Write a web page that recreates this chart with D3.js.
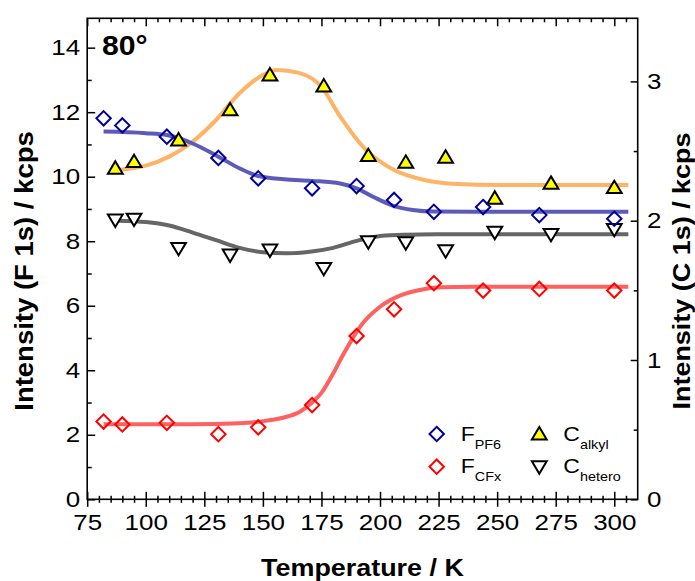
<!DOCTYPE html>
<html>
<head>
<meta charset="utf-8">
<script src="https://cdn.jsdelivr.net/npm/d3@7"></script>
<style>
  html, body { margin: 0; padding: 0; background: #fff; }
  svg { display: block; font-family: "Liberation Sans", Arial, sans-serif; }
</style>
</head>
<body>
<svg id="chart" width="695" height="581"></svg>
<script>
// ---- Measured intensities ----
// F 1s series (left axis, kcps)
const tempF   = [82, 90, 109, 131, 148, 171, 190, 206, 223, 244, 268, 300];
const fPF6    = [11.81, 11.59, 11.24, 10.58, 9.95, 9.64, 9.71, 9.28, 8.91, 9.06, 8.81, 8.70];
const fCFx    = [2.41, 2.32, 2.37, 2.02, 2.23, 2.92, 5.06, 5.89, 6.70, 6.47, 6.52, 6.47];

// C 1s series (right axis, kcps)
const tempC   = [87, 95, 114, 136, 153, 176, 195, 211, 228, 249, 273, 300];
const cAlkyl  = [2.376, 2.424, 2.579, 2.795, 3.046, 2.967, 2.467, 2.419, 2.455, 2.161, 2.268, 2.237];
const cHetero = [2.005, 2.012, 1.802, 1.754, 1.790, 1.658, 1.849, 1.842, 1.785, 1.917, 1.902, 1.938];

// Fit curves (guides to the eye)
const fitPF6T = [82, 100, 109, 120, 131, 140, 148, 159, 171, 183, 190, 197, 206, 214, 223, 240, 270, 306];
const fitPF6V = [11.40, 11.35, 11.29, 11.03, 10.62, 10.26, 10.02, 9.92, 9.87, 9.79, 9.64, 9.38, 9.09, 8.97, 8.92, 8.91, 8.91, 8.91];
const fitCFxT = [82, 120, 140, 150, 158, 166, 171, 175, 180, 184, 188, 192, 200, 209, 217, 226, 240, 306];
const fitCFxV = [2.33, 2.33, 2.36, 2.42, 2.52, 2.72, 3.0, 3.3, 3.9, 4.45, 4.95, 5.4, 5.97, 6.33, 6.49, 6.57, 6.59, 6.59];
const fitAlkT = [88, 100, 110, 120, 130, 140, 150, 156, 165, 175, 183, 194, 206, 219, 233, 250, 280, 306];
const fitAlkV = [2.364, 2.395, 2.46, 2.567, 2.723, 2.915, 3.046, 3.082, 3.063, 2.962, 2.747, 2.508, 2.364, 2.292, 2.263, 2.256, 2.256, 2.256];
const fitHetT = [88, 100, 110, 120, 130, 140, 150, 160, 170, 180, 190, 200, 210, 225, 306];
const fitHetV = [2.0, 1.99, 1.965, 1.915, 1.86, 1.805, 1.774, 1.766, 1.777, 1.805, 1.855, 1.89, 1.90, 1.902, 1.902];

// Axis ticks
const xMajor = [75, 100, 125, 150, 175, 200, 225, 250, 275, 300];
const xMinor = d3.range(80, 310, 5).filter(v => v % 25 !== 0);
const yLMajor = [0, 2, 4, 6, 8, 10, 12, 14];
const yLMinor = [1, 3, 5, 7, 9, 11, 13];
const yRMajor = [0, 1, 2, 3];
const yRMinor = [0.5, 1.5, 2.5];

// ---- Layout ----
const svg = d3.select("#chart");
const L = 87.2, R = 637.7, T = 18.3, B = 499.3;
const x  = d3.scaleLinear().domain([75, 310]).range([L, R]);
const yL = d3.scaleLinear().domain([0, 14.91]).range([B, T]);
const yR = d3.scaleLinear().domain([0, 3.453]).range([B, T]);

const stretch = 1.18;   // wide glyphs for labels
const tickFont = 22;

// ---- Fit curves ----
const plot = svg.append("g");
function fitLine(ts, vs, scaleY, color) {
  const pts = ts.map((t, i) => [t, vs[i]]);
  plot.append("path")
    .datum(pts)
    .attr("fill", "none")
    .attr("stroke", color)
    .attr("stroke-width", 4)
    .attr("stroke-linecap", "butt")
    .attr("d", d3.line().x(d => x(d[0])).y(d => scaleY(d[1])).curve(d3.curveMonotoneX));
}
fitLine(fitAlkT, fitAlkV, yR, "#ffb366");
fitLine(fitPF6T, fitPF6V, yL, "#5c5cb8");
fitLine(fitHetT, fitHetV, yR, "#666666");
fitLine(fitCFxT, fitCFxV, yL, "#ff6060");

// ---- Marker shapes ----
const diamond = "M0,-7.2L7.2,0L0,7.2L-7.2,0Z";
const triUp   = "M0,-7L7.4,5.4L-7.4,5.4Z";
const triDown = "M0,7L7.4,-5.4L-7.4,-5.4Z";

function markers(ts, vs, scaleY, path, stroke, fill) {
  plot.append("g").selectAll("path")
    .data(ts.map((t, i) => [t, vs[i]]))
    .join("path")
    .attr("d", path)
    .attr("transform", d => `translate(${x(d[0])},${scaleY(d[1])})`)
    .attr("fill", fill)
    .attr("stroke", stroke)
    .attr("stroke-width", 2)
    .attr("stroke-linejoin", "miter");
}
markers(tempC, cHetero, yR, triDown, "#000", "#fff");
markers(tempC, cAlkyl, yR, triUp, "#000", "#ffff00");
markers(tempF, fPF6, yL, diamond, "#000099", "none");
markers(tempF, fCFx, yL, diamond, "#ff0000", "none");

// ---- Axes ----
function styleAxis(g) {
  g.select(".domain").remove();
  g.selectAll("line").attr("stroke", "#000").attr("stroke-width", 1.5);
  g.selectAll("text").attr("fill", "#000").attr("font-size", tickFont)
    .attr("font-family", "'Liberation Sans', Arial, sans-serif");
}

// bottom: ticks cross the axis line
const bMaj = svg.append("g").attr("transform", `translate(0,${B})`)
  .call(d3.axisBottom(x).tickValues(xMajor).tickSize(7.5).tickPadding(9).tickFormat(d3.format("d")));
bMaj.call(styleAxis);
bMaj.selectAll("line").attr("y1", -7.5);
bMaj.selectAll("text").attr("transform", `scale(${stretch},1)`).attr("dy", "0.71em").attr("y", 15);

const bMin = svg.append("g").attr("transform", `translate(0,${B})`)
  .call(d3.axisBottom(x).tickValues(xMinor).tickSize(3.5).tickFormat(""));
bMin.call(styleAxis);
bMin.selectAll("line").attr("y1", -3.5);

// top: inward ticks, no labels
const tMaj = svg.append("g").attr("transform", `translate(0,${T})`)
  .call(d3.axisTop(x).tickValues(xMajor).tickSize(-8).tickFormat(""));
tMaj.call(styleAxis);
const tMin = svg.append("g").attr("transform", `translate(0,${T})`)
  .call(d3.axisTop(x).tickValues(xMinor).tickSize(-4).tickFormat(""));
tMin.call(styleAxis);

// left: F 1s
const lMaj = svg.append("g").attr("transform", `translate(${L},0)`)
  .call(d3.axisLeft(yL).tickValues(yLMajor).tickSize(-8).tickPadding(6).tickFormat(d3.format("d")));
lMaj.call(styleAxis);
lMaj.selectAll("text").attr("transform", `scale(${stretch},1)`);
const lMin = svg.append("g").attr("transform", `translate(${L},0)`)
  .call(d3.axisLeft(yL).tickValues(yLMinor).tickSize(-4.5).tickFormat(""));
lMin.call(styleAxis);

// right: C 1s
const rMaj = svg.append("g").attr("transform", `translate(${R},0)`)
  .call(d3.axisRight(yR).tickValues(yRMajor).tickSize(-7).tickPadding(8).tickFormat(d3.format("d")));
rMaj.call(styleAxis);
rMaj.selectAll("text").attr("transform", `scale(${stretch},1)`);
const rMin = svg.append("g").attr("transform", `translate(${R},0)`)
  .call(d3.axisRight(yR).tickValues(yRMinor).tickSize(-4).tickFormat(""));
rMin.call(styleAxis);

// frame
svg.append("rect")
  .attr("x", L).attr("y", T).attr("width", R - L).attr("height", B - T)
  .attr("fill", "none").attr("stroke", "#000").attr("stroke-width", 1.6);

// ---- Titles ----
const title = svg.append("g").attr("font-weight", "bold").attr("fill", "#000");
title.append("text")
  .attr("transform", `translate(${(L + R) / 2},576) scale(1.17,1)`)
  .attr("text-anchor", "middle").attr("font-size", 23)
  .text("Temperature / K");
title.append("text")
  .attr("transform", `translate(33,271) rotate(-90) scale(1.1,1)`)
  .attr("text-anchor", "middle").attr("font-size", 25)
  .text("Intensity (F 1s) / kcps");
title.append("text")
  .attr("transform", `translate(690,271) rotate(-90) scale(1.1,1)`)
  .attr("text-anchor", "middle").attr("font-size", 24.5)
  .text("Intensity (C 1s) / kcps");
title.append("text")
  .attr("transform", `translate(102,55) scale(1.12,1)`)
  .attr("font-size", 27)
  .text("80°");

// ---- Legend ----
const legendItems = [
  { path: diamond, stroke: "#000099", fill: "none",    main: "F", sub: "PF6",    cx: 436.7, cy: 434 },
  { path: diamond, stroke: "#ff0000", fill: "none",    main: "F", sub: "CFx",    cx: 436.7, cy: 466.7 },
  { path: triUp,   stroke: "#000",    fill: "#ffff00", main: "C", sub: "alkyl",  cx: 539.3, cy: 434 },
  { path: triDown, stroke: "#000",    fill: "#fff",    main: "C", sub: "hetero", cx: 539.3, cy: 466.7 }
];
const lg = svg.append("g");
legendItems.forEach(it => {
  lg.append("path").attr("d", it.path)
    .attr("transform", `translate(${it.cx},${it.cy})`)
    .attr("fill", it.fill).attr("stroke", it.stroke).attr("stroke-width", 2);
  const t = lg.append("text")
    .attr("transform", `translate(${it.cx + 24},${it.cy + 6.5}) scale(1.15,1)`)
    .attr("font-size", 20).attr("fill", "#000");
  t.append("tspan").text(it.main);
  t.append("tspan").attr("font-size", 12.5).attr("dy", 8).text(it.sub);
});
</script>
</body>
</html>
